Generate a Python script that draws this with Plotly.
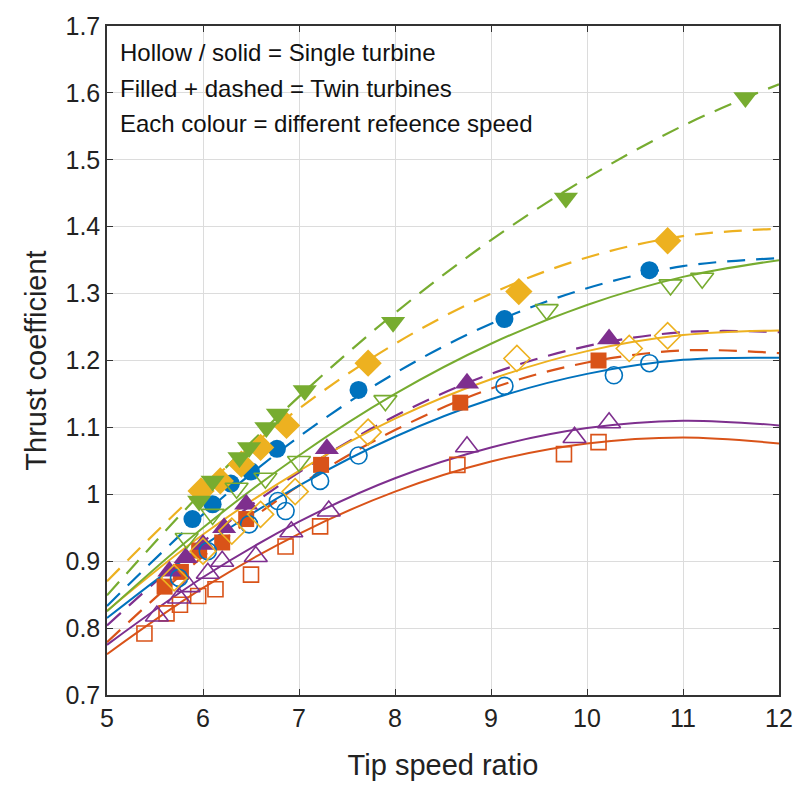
import plotly.graph_objects as go

# ---- colours (one per reference speed) ----
colour_names = ["orange", "purple", "blue", "yellow", "green"]
colours = {"orange": "#D95319", "purple": "#7E2F8E", "blue": "#0072BD",
           "yellow": "#EDB120", "green": "#77AC30"}
symbols = {"orange": "square", "purple": "triangle-up", "blue": "circle",
           "yellow": "diamond", "green": "triangle-down"}
size_open = {"square": 15, "triangle-up": 20, "circle": 17, "diamond": 20, "triangle-down": 20}
size_fill = {"square": 16, "triangle-up": 21, "circle": 18, "diamond": 21, "triangle-down": 21}

# ---- single turbine measurements (hollow markers) ----
single_orange_x = [5.39, 5.62, 5.76, 5.95, 6.13, 6.50, 6.86, 7.22, 8.65, 9.76, 10.12]
single_orange_y = [0.792, 0.822, 0.835, 0.848, 0.858, 0.880, 0.922, 0.952, 1.044, 1.060, 1.078]
single_purple_x = [5.52, 5.75, 5.85, 6.05, 6.20, 6.55, 6.92, 7.31, 8.75, 9.87, 10.23]
single_purple_y = [0.818, 0.845, 0.862, 0.882, 0.900, 0.907, 0.944, 0.975, 1.071, 1.085, 1.107]
single_blue_x = [5.75, 6.05, 6.48, 6.78, 6.86, 7.22, 7.62, 9.14, 10.28, 10.65]
single_blue_y = [0.875, 0.915, 0.955, 0.990, 0.975, 1.020, 1.058, 1.162, 1.178, 1.196]
single_yellow_x = [5.70, 6.00, 6.30, 6.60, 6.96, 7.72, 9.27, 10.44, 10.84]
single_yellow_y = [0.875, 0.915, 0.945, 0.970, 1.004, 1.093, 1.203, 1.218, 1.237]
single_green_x = [5.83, 6.10, 6.35, 6.65, 7.00, 7.90, 9.58, 10.87, 11.20]
single_green_y = [0.934, 0.970, 1.009, 1.024, 1.049, 1.140, 1.276, 1.313, 1.323]

# ---- twin turbine measurements (filled markers) ----
twin_orange_x = [5.60, 5.77, 5.96, 6.20, 6.45, 7.23, 8.68, 10.12]
twin_orange_y = [0.862, 0.884, 0.916, 0.928, 0.963, 1.044, 1.137, 1.200]
twin_purple_x = [5.65, 5.82, 6.00, 6.22, 6.45, 7.29, 8.75, 10.23]
twin_purple_y = [0.885, 0.905, 0.925, 0.950, 0.985, 1.068, 1.166, 1.232]
twin_blue_x = [5.89, 6.10, 6.29, 6.50, 6.77, 7.62, 9.14, 10.65]
twin_blue_y = [0.963, 0.985, 1.016, 1.034, 1.068, 1.156, 1.262, 1.335]
twin_yellow_x = [5.98, 6.18, 6.40, 6.60, 6.87, 7.72, 9.29, 10.84]
twin_yellow_y = [1.005, 1.020, 1.045, 1.070, 1.103, 1.196, 1.303, 1.379]
twin_green_x = [5.96, 6.10, 6.38, 6.48, 6.66, 6.78, 7.06, 7.98, 9.78, 11.65]
twin_green_y = [0.990, 1.020, 1.055, 1.070, 1.100, 1.120, 1.155, 1.257, 1.443, 1.593]

# ---- fitted curves at integer tip speed ratios ----
fit_x = [5, 6, 7, 8, 9, 10, 11, 12]
fit_single_orange = [0.761, 0.860, 0.941, 1.004, 1.049, 1.076, 1.085, 1.076]
fit_single_purple = [0.775, 0.876, 0.959, 1.024, 1.070, 1.099, 1.110, 1.103]
fit_single_blue = [0.815, 0.923, 1.013, 1.086, 1.142, 1.180, 1.201, 1.204]
fit_single_yellow = [0.826, 0.940, 1.035, 1.113, 1.172, 1.214, 1.238, 1.245]
fit_single_green = [0.825, 0.950, 1.058, 1.150, 1.225, 1.283, 1.325, 1.350]
fit_twin_orange = [0.779, 0.907, 1.013, 1.096, 1.158, 1.197, 1.215, 1.211]
fit_twin_purple = [0.804, 0.929, 1.033, 1.117, 1.180, 1.2215, 1.2424, 1.2424]
fit_twin_blue = [0.833, 0.970, 1.086, 1.181, 1.255, 1.308, 1.341, 1.353]
fit_twin_yellow = [0.870, 1.010, 1.128, 1.225, 1.300, 1.354, 1.386, 1.397]
fit_twin_green = [0.849, 1.005, 1.146, 1.271, 1.380, 1.473, 1.551, 1.613]

# ---- axis ticks ----
x_ticks = [5, 6, 7, 8, 9, 10, 11, 12]
y_ticks = [0.7, 0.8, 0.9, 1.0, 1.1, 1.2, 1.3, 1.4, 1.5, 1.6, 1.7]
y_tick_labels = ["0.7", "0.8", "0.9", "1", "1.1", "1.2", "1.3", "1.4", "1.5", "1.6", "1.7"]

note_lines = ["Hollow / solid = Single turbine",
              "Filled + dashed = Twin turbines",
              "Each colour = different refeence speed"]

FONT = "Liberation Sans Narrow, Arial Narrow, Liberation Sans, Arial"

single = {
    "orange": (single_orange_x, single_orange_y, fit_single_orange),
    "purple": (single_purple_x, single_purple_y, fit_single_purple),
    "blue": (single_blue_x, single_blue_y, fit_single_blue),
    "yellow": (single_yellow_x, single_yellow_y, fit_single_yellow),
    "green": (single_green_x, single_green_y, fit_single_green),
}
twin = {
    "orange": (twin_orange_x, twin_orange_y, fit_twin_orange),
    "purple": (twin_purple_x, twin_purple_y, fit_twin_purple),
    "blue": (twin_blue_x, twin_blue_y, fit_twin_blue),
    "yellow": (twin_yellow_x, twin_yellow_y, fit_twin_yellow),
    "green": (twin_green_x, twin_green_y, fit_twin_green),
}

fig = go.Figure()

# fitted curves
for name in colour_names:
    c = colours[name]
    fig.add_trace(go.Scatter(x=fit_x, y=single[name][2], mode="lines",
                             line=dict(color=c, width=2, shape="spline"),
                             showlegend=False, hoverinfo="skip"))
    fig.add_trace(go.Scatter(x=fit_x, y=twin[name][2], mode="lines",
                             line=dict(color=c, width=2.2, dash="18px,11px", shape="spline"),
                             showlegend=False, hoverinfo="skip"))

# markers
for name in colour_names:
    c = colours[name]
    s = symbols[name]
    sx, sy, _ = single[name]
    tx, ty, _ = twin[name]
    fig.add_trace(go.Scatter(x=sx, y=sy, mode="markers",
                             marker=dict(symbol=s + "-open", size=size_open[s],
                                         color=c, line=dict(color=c, width=1.6)),
                             showlegend=False))
    fig.add_trace(go.Scatter(x=tx, y=ty, mode="markers",
                             marker=dict(symbol=s, size=size_fill[s],
                                         color=c, line=dict(width=0)),
                             showlegend=False))

for i, txt in enumerate(note_lines):
    fig.add_annotation(x=5.11, y=1.66 - i * 0.053, xref="x", yref="y", text=txt,
                       showarrow=False, xanchor="left", yanchor="middle",
                       font=dict(size=24, color="#111111", family=FONT))

axis_common = dict(showgrid=True, gridcolor="#DCDCDC", gridwidth=1, zeroline=False,
                   showline=True, linecolor="#333333", linewidth=1.5, mirror="ticks",
                   ticks="inside", ticklen=6, tickcolor="#333333",
                   tickfont=dict(size=25, color="#222222", family=FONT))

fig.update_xaxes(range=[5, 12], tickvals=x_ticks, title=dict(text="Tip speed ratio",
                 font=dict(size=29, color="#222222", family=FONT), standoff=24),
                 **axis_common)
fig.update_yaxes(range=[0.7, 1.7], tickvals=y_ticks, ticktext=y_tick_labels,
                 title=dict(text="Thrust coefficient",
                            font=dict(size=29, color="#222222", family=FONT),
                            standoff=10),
                 **axis_common)

fig.update_layout(width=805, height=788, margin=dict(l=107, r=21, t=17, b=91),
                  plot_bgcolor="white", paper_bgcolor="white", showlegend=False)

fig.write_html("out.html")
